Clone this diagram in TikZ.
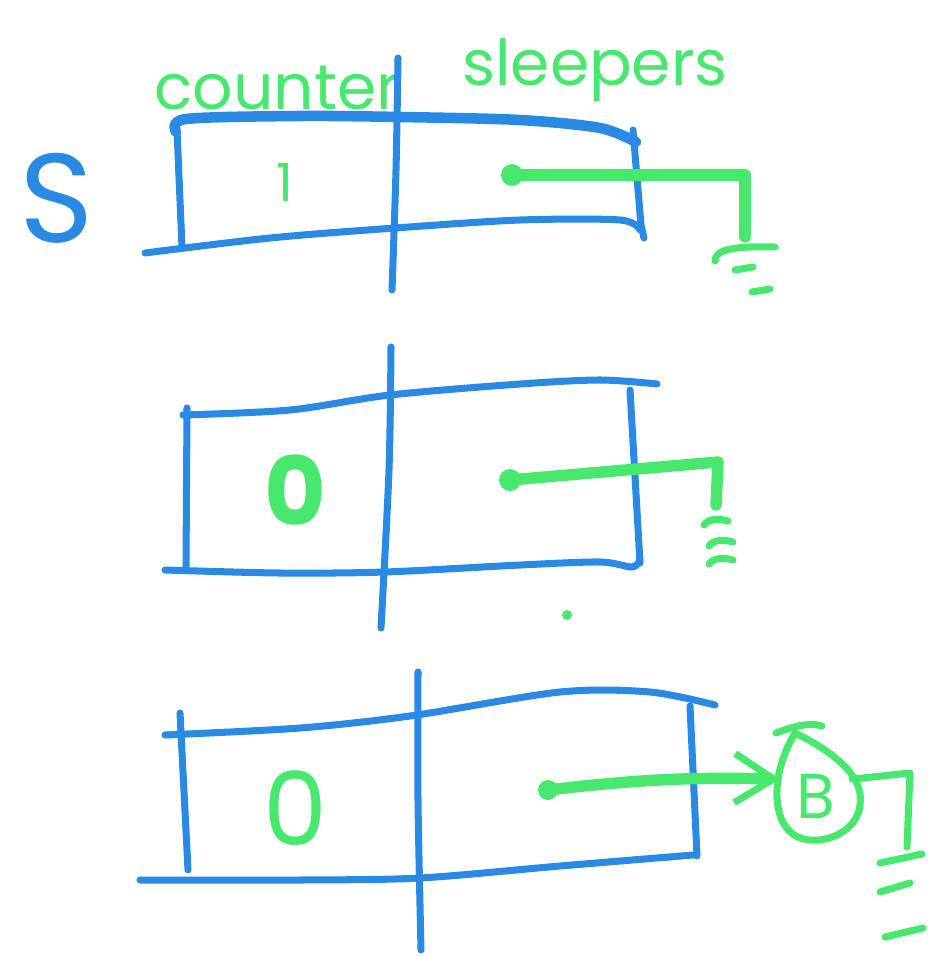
\documentclass[tikz,border=0pt]{standalone}
\usepackage{fontspec}
\newfontfamily\handfont{Poppins}
\usepackage{tikz}
\usetikzlibrary{arrows.meta,positioning}
\definecolor{penblue}{HTML}{2A89E3}
\definecolor{pengreen}{HTML}{48E86E}
\tikzset{
  box/.style={draw=penblue, line width=4pt, line cap=round, line join=round},
  wire/.style={draw=pengreen, line width=6.5pt, line cap=round, line join=round},
  earth/.style={draw=pengreen, line width=4pt, line cap=round, line join=round},
  scrawl/.style={text=pengreen, inner sep=0pt, font=\handfont\fontsize{36}{36}\selectfont},
  digit/.style={text=pengreen, inner sep=0pt, font=\handfont\bfseries\fontsize{54}{54}\selectfont},
  pull/.style={-{Straight Barb[length=22pt, width=28pt, line width=4pt]}},
}

\begin{document}
\begin{tikzpicture}[x=0.02cm, y=-0.02cm]
\useasboundingbox (0,0) rectangle (927,956);

% ---------- top: counter 1 ----------
\node[scrawl] (cnt) at (277,88) {counter};
\node[scrawl] (slp) at (595,70) {sleepers};
\node[text=penblue, inner sep=0pt, font=\handfont\fontsize{72}{72}\selectfont] (sem) at (57,198) {S};
\draw[box, line width=6pt] plot[smooth] coordinates {(176,132) (186,119) (300,116) (400,117) (520,120) (600,128) (636,142)};
\draw[box] (177,130) -- (182,247);
\draw[box] (633,130) -- (641,225) -- (644,238);
\draw[box] plot[smooth] coordinates {(145,253) (270,238) (395,228) (520,220) (620,220) (640,230)};
\draw[box] plot[smooth] coordinates {(398,58) (396,170) (392,290)};
\node[digit, font=\handfont\fontsize{30}{30}\selectfont] (one) at (285,182) {1};
\coordinate (d1) at (512,175);
\coordinate (g1) at (745,237);
\fill[pengreen] (d1) circle (11);
\draw[wire] (d1) -| (g1);
\begin{scope}[shift={(g1)}]
  \draw[earth] (-30,24) .. controls (-30,12) and (-10,9) .. (30,10);
  \foreach \a/\b in {-10/33, 7/55}{
    \draw[earth] (\a,\b) -- ++(18,-3);
  }
\end{scope}

% ---------- middle: counter 0 ----------
\draw[box] plot[smooth] coordinates {(183,415) (290,410) (390,395) (520,384) (600,380) (657,384)};
\draw[box] (187,408) -- (186,568);
\draw[box] plot[smooth] coordinates {(165,570) (280,573) (385,572) (520,565) (600,562) (632,567) (640,560)};
\draw[box] (630,390) -- (640,563);
\draw[box] plot[smooth] coordinates {(391,347) (389,470) (381,628)};
\node[digit] (zero2) at (295,490) {0};
\coordinate (d2) at (510,480);
\coordinate (c2) at (718,462);
\coordinate (g2) at (716,505);
\fill[pengreen] (d2) circle (11);
\draw[wire] (d2) -- (c2) -- (g2);
\begin{scope}[shift={(g2)}]
  \foreach \a/\b in {-12/20, -7/41, -7/59}{
    \draw[earth] (\a,\b) .. controls (\a+4,\b-6) and (\a+14,\b-7) .. ++(24,-4);
  }
\end{scope}
\fill[pengreen] (567,615) circle (5);

% ---------- bottom: counter 0, sleeper B ----------
\draw[box] plot[smooth] coordinates {(165,735) (300,728) (410,716) (560,692) (650,692) (715,705)};
\draw[box] (180,713) -- (188,870);
\draw[box] plot[smooth] coordinates {(140,880) (300,880) (420,878) (560,866) (693,855)};
\draw[box] (690,706) -- (697,856);
\draw[box] plot[smooth] coordinates {(418,672) (418,800) (421,950)};
\node[digit, font=\handfont\fontsize{58}{58}\selectfont] (zero3) at (295,808) {0};
\node[circle, minimum size=45pt, inner sep=0pt,
      text=pengreen, font=\handfont\fontsize{36}{36}\selectfont] (bnode) at (816,796) {B};
\coordinate (tip) at (795,733);
\draw[earth] (tip) .. controls (830,750) and (865,775) .. (860,805)
  .. controls (857,830) and (830,842) .. (810,840)
  .. controls (785,838) and (776,815) .. (777,790)
  .. controls (778,765) and (788,745) .. (tip);
\draw[earth] (776,733) .. controls (795,726) and (810,722) .. (822,726);
\coordinate (d3) at (548,790);
\coordinate (c3) at (910,773);
\coordinate (g3) at (907,847);
\fill[pengreen] (d3) circle (10);
\draw[wire, pull] (d3) to[bend left=4] (bnode.155);
\draw[earth] (bnode.25) -- (c3) -- (g3);
\begin{scope}[shift={(g3)}]
  \foreach \a/\b/\w in {-27/16/42, -27/45/30, -22/90/38}{
    \draw[earth] (\a,\b) -- ++(\w,-9);
  }
\end{scope}
\end{tikzpicture}
\end{document}
